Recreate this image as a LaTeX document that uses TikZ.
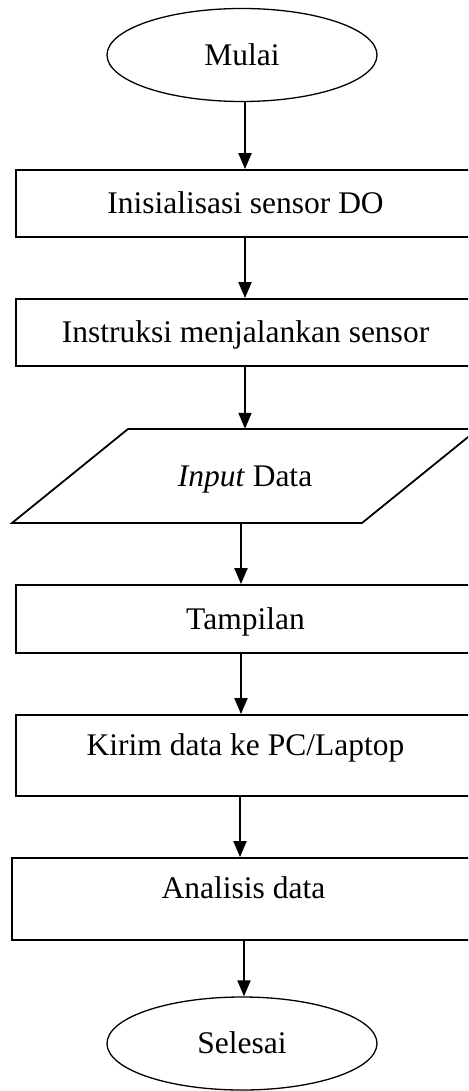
\documentclass[tikz,border=0pt]{standalone}
\usepackage{fontspec}
\setmainfont{Liberation Serif}
\usetikzlibrary{arrows.meta,shapes.geometric}
\tikzset{
  txt/.style={text height=20.5pt, text depth=0pt, inner sep=0pt},
  term/.style={ellipse, draw, line width=1.3pt, minimum width=270pt, minimum height=93pt, txt},
  procbox/.style={rectangle, draw, line width=1.8pt, minimum width=459pt, txt},
  arr/.style={line width=2pt, -{Triangle[length=16pt,width=13pt]}},
  lbl/.style={txt}
}
\begin{document}
\begin{tikzpicture}[x=1pt,y=-1pt,font=\fontsize{31.5}{36}\selectfont]
\useasboundingbox (0,0) rectangle (468,1091);
\clip (0,0) rectangle (468,1091);

\node[term] (mulai) at (242,55) {Mulai};
\node[procbox, minimum height=67pt] (b1) at (245.5,203.5) {Inisialisasi sensor DO};
\node[procbox, minimum height=67pt] (b2) at (245.5,332.5) {Instruksi menjalankan sensor};
\node[txt, minimum height=94pt] (inp) at (245,476) {\textit{Input} Data};
\draw[line width=1.8pt] (128,429) -- (478,429) -- (362,523) -- (12,523) -- cycle;
\node[procbox, minimum height=68pt] (b3) at (245.5,619) {Tampilan};
\node[procbox, minimum height=81pt, label={[lbl, yshift=10.5pt]center:Kirim data ke PC/Laptop}] (b4) at (245.5,755.5) {};
\node[procbox, minimum width=463pt, minimum height=82pt, label={[lbl, yshift=11pt]center:Analisis data}] (b5) at (243.5,899) {};
\node[term] (selesai) at (242,1043.5) {Selesai};

\draw[arr] ([xshift=3pt]mulai.south) -- ([xshift=3pt]mulai.south |- b1.north);
\draw[arr] ([xshift=-0.5pt]b1.south) -- ([xshift=-0.5pt]b1.south |- b2.north);
\draw[arr] ([xshift=-0.5pt]b2.south) -- ([xshift=-0.5pt]b2.south |- inp.north);
\draw[arr] ([xshift=-4pt]inp.south) -- ([xshift=-4pt]inp.south |- b3.north);
\draw[arr] ([xshift=-4.5pt]b3.south) -- ([xshift=-4.5pt]b3.south |- b4.north);
\draw[arr] ([xshift=-5.5pt]b4.south) -- ([xshift=-5.5pt]b4.south |- b5.north);
\draw[arr] ([xshift=0.5pt]b5.south) -- ([xshift=0.5pt]b5.south |- selesai.north);
\end{tikzpicture}
\end{document}
